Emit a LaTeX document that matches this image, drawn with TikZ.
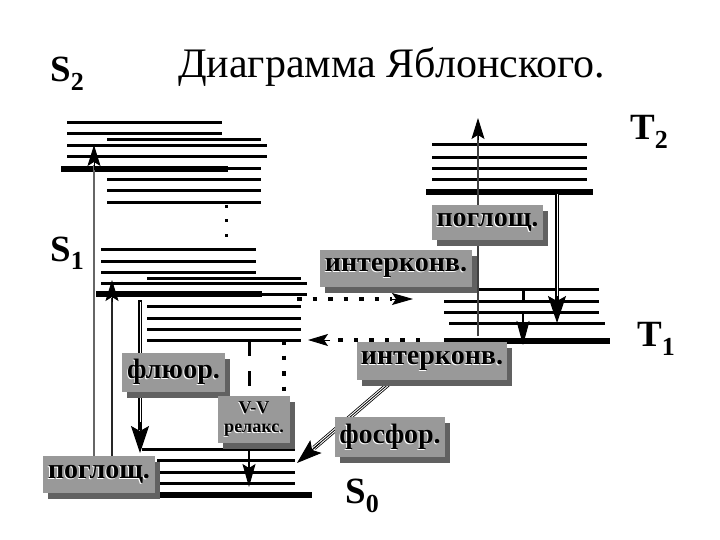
\documentclass[tikz,border=0pt]{standalone}
\usepackage{fontspec}
\setmainfont{Liberation Serif}
\usetikzlibrary{arrows.meta,shadows}
\newcommand{\emb}[1]{\leavevmode\rlap{\kern-0.9pt\raisebox{-1.2pt}{\color{white}#1}}#1}
\newcommand{\lab}[2]{{\bfseries\fontsize{37}{37}\selectfont #1}\raisebox{-9pt}{\bfseries\fontsize{26}{26}\selectfont #2}}
\tikzset{
  lvl/.style={line width=3pt},
  tlvl/.style={line width=5.5pt},
  lbox/.style={fill=black!40, inner sep=0pt, font=\bfseries\fontsize{28}{28}\selectfont,
    drop shadow={shadow xshift=5pt,shadow yshift=-6pt,fill=black!62,opacity=1}},
  tipA/.style={-{Stealth[length=21pt,width=13pt,inset=4pt]}},
  tipB/.style={-{Stealth[length=27pt,width=18pt,inset=5pt]}},
  dotl/.style={line width=4.5pt, dash pattern=on 4.5pt off 11pt},
}
\begin{document}
\begin{tikzpicture}[x=1pt,y=-1pt]
\useasboundingbox[fill=white] (0,0) rectangle (720,540);

% title and state labels
\node[anchor=base west, inner sep=0pt, font=\fontsize{42}{42}\selectfont] (title) at (178,78) {Диаграмма Яблонского.};
\node[anchor=base west, inner sep=0pt] (S2) at (50,82) {\lab{S}{2}};
\node[anchor=base west, inner sep=0pt] (S1) at (50,261) {\lab{S}{1}};
\node[anchor=base west, inner sep=0pt] (T2) at (630,140) {\lab{T}{2}};
\node[anchor=base west, inner sep=0pt] (T1) at (637,346) {\lab{T}{1}};
\node[anchor=base west, inner sep=0pt] (S0) at (345,503) {\lab{S}{0}};

% S2 levels
\foreach \y in {123,134} \draw[lvl] (67,\y) -- (222,\y);
\foreach \y in {146,157} \draw[lvl] (67,\y) -- (267,\y);
\foreach \y in {140,169,180,191,203} \draw[lvl] (107,\y) -- (261,\y);
\draw[tlvl] (61,169) -- (228,169);
\foreach \y in {207,221,235} \fill (224.5,\y-1.5) rectangle +(3,3);

% S1 levels
\foreach \y in {249,261,272} \draw[lvl] (101,\y) -- (256,\y);
\draw[lvl] (101,283) -- (307,283);
\draw[lvl] (147,294) -- (307,294);
\foreach \y in {278,306,318,329,340} \draw[lvl] (147,\y) -- (301,\y);
\draw[tlvl] (96,294) -- (262,294);

% S0 levels
\draw[lvl] (142,449) -- (295,449);
\foreach \y in {460,472,483} \draw[lvl] (157,\y) -- (295,\y);
\draw[tlvl] (150,495) -- (312,495);

% T2 levels
\foreach \y in {145,158,169,180} \draw[lvl] (432,\y) -- (587,\y);
\draw[tlvl] (426,192) -- (593,192);

% T1 levels
\draw[lvl] (478,289) -- (599,289);
\foreach \y in {301,312} \draw[lvl] (444,\y) -- (599,\y);
\draw[lvl] (449,323) -- (605,323);
\draw[tlvl] (444,341) -- (610,341);

% absorption S0 -> S2
\draw[black!60, line width=2pt] (94,470) -- (94,165);
\draw[tipA, line width=1pt] (94,170) -- (94,145);
% absorption S0 -> S1
\draw[black!85, line width=2.6pt] (112,470) -- (112,298);
\draw[tipA, line width=1pt] (112,302) -- (112,280);
% fluorescence S1 -> S0
\draw[line width=3.6pt] (140,300) -- (140,430);
\draw[white, line width=1pt] (140,302) -- (140,428);
\draw[tipB, line width=1pt] (140,422) -- (140,453);
% V-V relaxation in S1 and S0
\draw[line width=3pt, dash pattern=on 15pt off 15pt] (249,341) -- (249,390);
\draw[line width=2pt] (249,450) -- (249,468);
\draw[-{Stealth[length=23pt,width=13pt,inset=4pt]}, line width=1pt] (249,462) -- (249,487);
\draw[dotl] (284,340) -- (284,392);
% intersystem crossing S1 -> T1 and back
\draw[dotl] (297,299) -- (392,299);
\draw[-{Stealth[length=21pt,width=12pt,inset=4pt]}, line width=1pt] (390,299) -- (413,299);
\draw[dotl] (420,340) -- (330,340);
\draw[-{Stealth[length=20pt,width=12pt,inset=4pt]}, line width=1pt] (330,340) -- (308,340);
% absorption T1 -> T2
\draw[black!75, line width=2.4pt] (478,336) -- (478,135);
\draw[tipA, line width=1pt] (478,140) -- (478,118);
% relaxation T2 -> T1
\draw[line width=3.6pt] (557,192) -- (557,300);
\draw[white, line width=1pt] (557,194) -- (557,300);
\draw[tipB, line width=1pt] (557,296) -- (557,323);
% V-V relaxation in T1
\draw[line width=3pt] (523,289) -- (523,303);
\draw[line width=2pt] (523,314) -- (523,325);
\draw[-{Stealth[length=24pt,width=13pt,inset=4pt]}, line width=1pt] (523,320) -- (523,345);
% phosphorescence T1 -> S0
\draw[line width=4.6pt] (392,381) -- (314,448);
\draw[white, line width=3pt] (392,381) -- (314,448);
\draw[line width=0.8pt] (392,381) -- (314,448);
\draw[-{Stealth[length=25pt,width=17pt,inset=5pt]}, line width=1pt] (320,443) -- (297,463);

% labelled boxes
\node[lbox, minimum width=111pt, minimum height=35pt] (absT) at (487.5,222.5) {\emb{поглощ.}};
\node[lbox, minimum width=152pt, minimum height=37pt] (iscA) at (396,268.5) {\emb{интерконв.}};
\node[lbox, minimum width=150pt, minimum height=38pt] (iscB) at (432,361) {\emb{интерконв.}};
\node[lbox, minimum width=103pt, minimum height=39pt] (fl) at (173.5,372.5) {\emb{флюор.}};
\node[lbox, minimum width=72pt, minimum height=47pt, align=center,
      font=\bfseries\fontsize{18}{19}\selectfont] (vv) at (254,419.5) {\emb{V-V}\\\emb{релакс.}};
\node[lbox, minimum width=110pt, minimum height=40pt] (ph) at (390,437) {\emb{фосфор.}};
\node[lbox, minimum width=112pt, minimum height=37pt] (absS) at (99,474.5) {\emb{поглощ.}};
\end{tikzpicture}
\end{document}
